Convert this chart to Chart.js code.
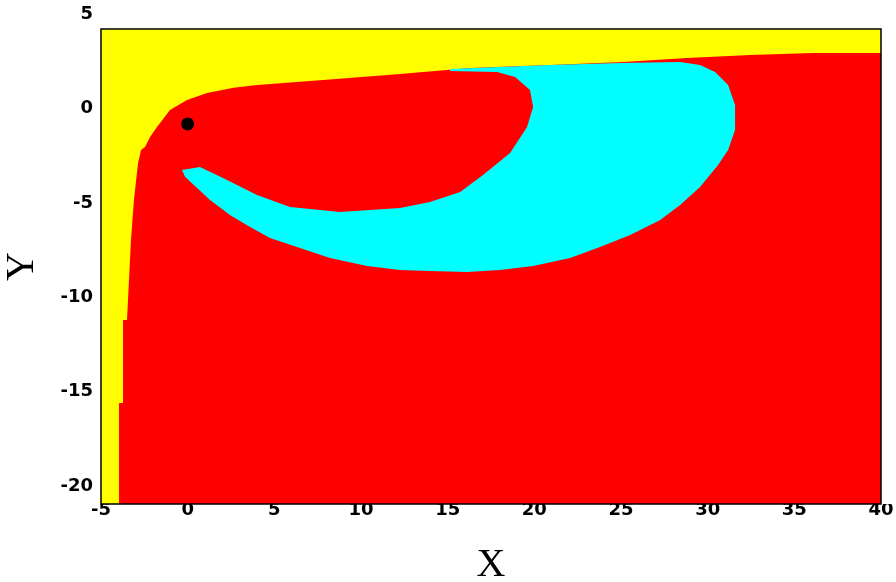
<!DOCTYPE html>
<html>
<head>
<meta charset="utf-8">
<script src="https://cdn.jsdelivr.net/npm/chart.js@4.4.1/dist/chart.umd.min.js"></script>
<style>
  html, body { margin: 0; padding: 0; background: #fff; }
  #wrap { width: 896px; height: 582px; }
</style>
</head>
<body>
<div id="wrap"><canvas id="basin" width="896" height="582"></canvas></div>
<script>
// axis ranges and tick labels
const xRange = [-5, 40];
const yRange = [-20.95, 4.21];
const xTicks = [-5, 0, 5, 10, 15, 20, 25, 30, 35, 40];
const yTicks = [-20, -15, -10, -5, 0, 5];

// upper edge of the red basin (yellow above it), left to right
const redEdgeX = [-3.96, -3.96, -3.73, -3.73, -3.5, -3.27, -3.1, -2.86, -2.69, -2.46, -2.17, -1.77, -1.02, -0.04, 1.12, 2.65, 4.0, 7.81, 12.25, 16.29, 20.91, 25.12, 28.81, 32.45, 36.09, 40];
const redEdgeY = [-20.95, -15.6, -15.6, -11.2, -11.2, -6.97, -4.85, -2.89, -2.2, -2.04, -1.51, -0.98, -0.08, 0.45, 0.82, 1.1, 1.24, 1.51, 1.83, 2.15, 2.3, 2.46, 2.67, 2.83, 2.94, 2.94];

// outline of the cyan crescent, closed loop starting at its left tip
const cyanX = [-0.33, 0.71, 2.04, 4.0, 5.91, 8.79, 12.25, 13.98, 15.72, 17.04, 18.6, 19.58, 19.93, 19.75, 18.89, 17.85, 15.14, 15.14, 20.91, 24.95, 28.41, 29.56, 30.43, 31.18, 31.58, 31.58, 31.18, 30.6, 29.56, 28.41, 27.26, 25.53, 23.79, 22.06, 19.93, 18.02, 16.12, 13.98, 12.25, 10.35, 8.21, 6.48, 4.75, 3.6, 2.44, 1.29, 0.42, -0.15, -0.33];
const cyanY = [-3.26, -3.1, -3.68, -4.58, -5.22, -5.48, -5.27, -4.95, -4.42, -3.52, -2.36, -0.98, 0.08, 0.98, 1.67, 1.93, 1.99, 2.09, 2.3, 2.41, 2.46, 2.3, 1.93, 1.24, 0.19, -1.14, -2.2, -2.99, -4.16, -5.11, -5.91, -6.7, -7.34, -7.92, -8.34, -8.55, -8.66, -8.61, -8.55, -8.34, -7.92, -7.39, -6.86, -6.28, -5.64, -4.85, -4.1, -3.62, -3.26];

// fixed point
const fixedX = [0];
const fixedY = [-0.82];

const toPoints = (xs, ys) => xs.map((x, i) => ({ x: x, y: ys[i] }));

const framePlugin = {
  id: "frame",
  afterDraw(chart) {
    const { ctx, chartArea: a } = chart;
    ctx.save();
    ctx.strokeStyle = "#000";
    ctx.lineWidth = 1.5;
    ctx.strokeRect(a.left, a.top, a.right - a.left, a.bottom - a.top);
    ctx.restore();
  },
};

new Chart(document.getElementById("basin"), {
  type: "line",
  data: {
    datasets: [
      {
        label: "fixed point",
        type: "scatter",
        data: toPoints(fixedX, fixedY),
        pointRadius: 6.5,
        pointBackgroundColor: "#000",
        pointBorderWidth: 0,
        order: 0,
      },
      {
        label: "cyan basin",
        data: toPoints(cyanX, cyanY),
        backgroundColor: "#00ffff",
        borderWidth: 0,
        pointRadius: 0,
        fill: "shape",
        tension: 0,
        order: 1,
      },
      {
        label: "red basin",
        data: toPoints(redEdgeX, redEdgeY),
        backgroundColor: "#ff0000",
        borderWidth: 0,
        pointRadius: 0,
        fill: "start",
        tension: 0,
        order: 2,
      },
      {
        label: "escape",
        data: toPoints(xRange, [yRange[1], yRange[1]]),
        backgroundColor: "#ffff00",
        borderWidth: 0,
        pointRadius: 0,
        fill: "start",
        order: 3,
      },
    ],
  },
  options: {
    responsive: false,
    animation: false,
    layout: { padding: { top: 29, right: 15, left: 0, bottom: 0 } },
    plugins: {
      legend: { display: false },
      tooltip: { enabled: false },
    },
    scales: {
      x: {
        type: "linear",
        min: xRange[0],
        max: xRange[1],
        bounds: "data",
        grid: { display: false, drawTicks: false },
        border: { display: false },
        afterBuildTicks: (scale) => {
          scale.ticks = xTicks.map((v) => ({ value: v }));
        },
        afterFit: (scale) => {
          scale.height = 78;
        },
        ticks: {
          padding: -4,
          color: "#000",
          autoSkip: false,
          maxRotation: 0,
          font: { family: "DejaVu Sans", size: 18, weight: "bold" },
        },
        title: {
          display: true,
          text: "X",
          color: "#000",
          padding: { top: 0, bottom: -3 },
          font: { family: "Liberation Serif", size: 40, weight: "normal", lineHeight: 1 },
        },
      },
      y: {
        type: "linear",
        min: yRange[0],
        max: yRange[1],
        bounds: "data",
        grid: { display: false, drawTicks: false },
        border: { display: false },
        afterBuildTicks: (scale) => {
          scale.ticks = yTicks.map((v) => ({ value: v }));
        },
        afterFit: (scale) => {
          scale.width = 101;
        },
        ticks: {
          padding: 8,
          color: "#000",
          autoSkip: false,
          font: { family: "DejaVu Sans", size: 18, weight: "bold" },
        },
        title: {
          display: true,
          text: "Y",
          color: "#000",
          padding: { top: 2, bottom: 0 },
          font: { family: "Liberation Serif", size: 40, weight: "normal", lineHeight: 1 },
        },
      },
    },
  },
  plugins: [framePlugin],
});
</script>
</body>
</html>
